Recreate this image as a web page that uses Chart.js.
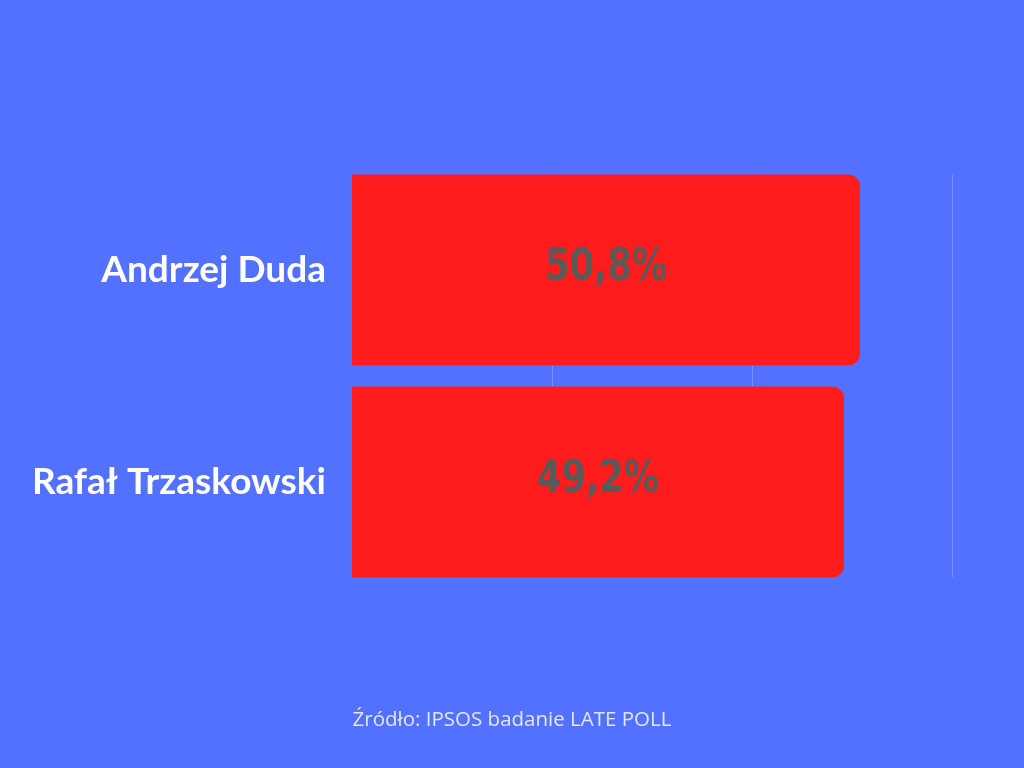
<!DOCTYPE html>
<html>
<head>
<meta charset="utf-8">
<script src="https://cdn.jsdelivr.net/npm/chart.js@4"></script>
<style>
  html, body { margin: 0; padding: 0; background: #5271ff; }
  #wrap { width: 1024px; height: 768px; }
</style>
</head>
<body>
<div id="wrap"><canvas id="myChart"></canvas></div>
<script>
const candidates = ["Andrzej Duda", "Rafał Trzaskowski"];
const results = [50.8, 49.2];
const resultLabels = ["50,8%", "49,2%"];
const gridValues = [20, 40, 60];
const sourceText = "Źródło: IPSOS badanie LATE POLL";

// gridlines only between the top of the first bar and bottom of the last
const gridPlugin = {
  id: 'grid',
  beforeDatasetsDraw(chart) {
    const ctx = chart.ctx;
    const bars = chart.getDatasetMeta(0).data;
    const top = bars[0].y - bars[0].height / 2;
    const bottom = bars[bars.length - 1].y + bars[bars.length - 1].height / 2;
    const x = chart.scales.x;
    ctx.save();
    ctx.strokeStyle = 'rgba(190,200,255,0.35)';
    ctx.lineWidth = 1;
    gridValues.forEach(v => {
      const px = Math.round(x.getPixelForValue(v)) + 0.5;
      ctx.beginPath();
      ctx.moveTo(px, top);
      ctx.lineTo(px, bottom);
      ctx.stroke();
    });
    ctx.restore();
  }
};

// draws the percent inside each bar and the source line below
const labelsPlugin = {
  id: 'labels',
  afterDatasetsDraw(chart) {
    const ctx = chart.ctx;
    const meta = chart.getDatasetMeta(0);
    meta.data.forEach((bar, i) => {
      const cx = (bar.x + bar.base) / 2;
      ctx.save();
      ctx.translate(cx, bar.y + 10);
      ctx.scale(0.89, 1);
      ctx.font = 'bold 44px "DejaVu Sans Condensed", "DejaVu Sans"';
      ctx.fillStyle = '#5a5a5a';
      ctx.textAlign = 'center';
      ctx.textBaseline = 'alphabetic';
      ctx.fillText(resultLabels[i], 0, 0);
      ctx.restore();
    });
    ctx.save();
    ctx.font = '20.5px "Open Sans"';
    ctx.fillStyle = '#e2e6ff';
    ctx.textAlign = 'center';
    ctx.textBaseline = 'middle';
    ctx.fillText(sourceText, chart.width / 2, 720);
    ctx.restore();
  }
};

const ctx = document.getElementById('myChart');
new Chart(ctx, {
  type: 'bar',
  data: {
    labels: candidates,
    datasets: [{
      data: results,
      backgroundColor: '#ff1c1c',
      borderRadius: { topRight: 12, bottomRight: 12 },
      borderSkipped: false,
      barPercentage: 0.9,
      categoryPercentage: 1.0
    }]
  },
  options: {
    indexAxis: 'y',
    responsive: true,
    maintainAspectRatio: false,
    animation: false,
    layout: { padding: { top: 164, bottom: 180, right: 72, left: 0 } },
    scales: {
      x: {
        min: 0,
        max: 60,
        ticks: { display: false, stepSize: 20 },
        grid: { display: false, drawTicks: false },
        border: { display: false }
      },
      y: {
        afterFit(scale) { scale.width = 352; },
        ticks: {
          color: '#ffffff',
          padding: 26,
          font: { family: 'Lato', weight: 'bold', size: 37 }
        },
        grid: { display: false, drawTicks: false },
        border: { display: false }
      }
    },
    plugins: {
      legend: { display: false },
      tooltip: { enabled: false }
    }
  },
  plugins: [gridPlugin, labelsPlugin]
});
</script>
</body>
</html>
